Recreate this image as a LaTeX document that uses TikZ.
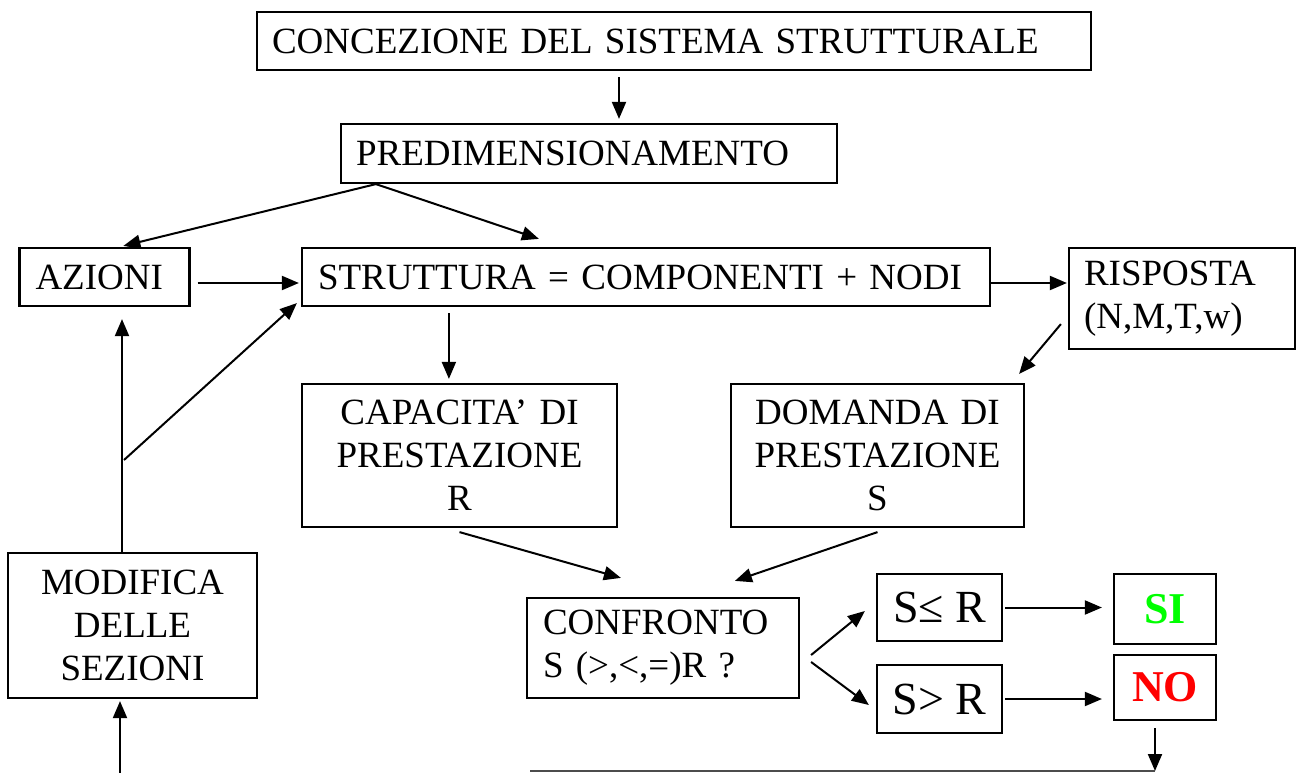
\documentclass[tikz,border=0pt]{standalone}
\usepackage{fontspec}
\setmainfont{Liberation Serif}
\usepackage{tikz}
\usetikzlibrary{arrows.meta}

\begin{document}
\begin{tikzpicture}[x=1pt,y=-1pt,
  box/.style={draw,line width=2.2pt,inner ysep=0pt,
    font=\fontsize{37}{43}\selectfont},
  lbox/.style={box,align=left,inner xsep=15pt},
  cbox/.style={box,align=center,inner xsep=0pt},
  big/.style={box,inner xsep=0pt,font=\fontsize{46}{50}\selectfont},
  res/.style={big,font=\fontsize{44}{50}\selectfont\bfseries},
  arr/.style={line width=2pt,-{Triangle[length=17pt,width=14pt]}}]
\useasboundingbox (0,0) rectangle (1298,773);

\node[lbox,text width=804pt,minimum height=58pt] (conc) at (674,41)
  {CONCEZIONE DEL SISTEMA STRUTTURALE};
\node[lbox,text width=466pt,minimum height=59pt] (pred) at (589,153.5)
  {PREDIMENSIONAMENTO};
\node[lbox,text width=138pt,minimum height=58pt,inner xsep=16pt] (azioni) at (104.5,277)
  {AZIONI};
\node[lbox,text width=656pt,minimum height=58pt,inner xsep=16pt] (str) at (646,277)
  {STRUTTURA = COMPONENTI + NODI};
\node[lbox,text width=196pt,minimum height=101pt] (risp) at (1182,298.5)
  {RISPOSTA\\(N,M,T,w)};
\node[cbox,text width=315pt,minimum height=143pt] (cap) at (459.5,455.5)
  {CAPACITA’ DI\\PRESTAZIONE\\R};
\node[cbox,text width=293pt,minimum height=143pt] (dom) at (877.5,455.5)
  {DOMANDA DI\\PRESTAZIONE\\S};
\node[cbox,text width=249pt,minimum height=145pt] (mod) at (132.5,625.5)
  {MODIFICA\\DELLE\\SEZIONI};
\node[lbox,text width=240pt,minimum height=100pt,inner xsep=16pt] (conf) at (663,648)
  {CONFRONTO\\S (>,<,=)R ?};
\node[big,minimum width=125pt,minimum height=67pt] (le) at (939.5,607.5) {S≤ R};
\node[big,minimum width=125pt,minimum height=68pt] (gt) at (939.5,699) {S> R};
\node[res,minimum width=102pt,minimum height=70pt,text=green] (si) at (1165,609) {SI};
\node[res,minimum width=102pt,minimum height=65pt,text=red] (no) at (1165,687.5) {NO};

\coordinate (bot) at (1155,771);
\coordinate (botl) at (530,771);
\coordinate (start) at (120,773);
\coordinate (fork) at (124,460);

\draw[arr] ([xshift=-55pt,yshift=-6pt]conc.south) -- ([xshift=30pt,yshift=4pt]pred.north);
\draw[arr] ([xshift=36pt]pred.south west) -- ([xshift=105pt,yshift=1pt]azioni.north west);
\draw[arr] ([xshift=36pt]pred.south west) -- ([xshift=238pt,yshift=8pt]str.north west);
\draw[arr] ([xshift=7pt,yshift=-6pt]azioni.east) -- ([xshift=-2pt,yshift=-6pt]str.west);
\draw[arr] ([yshift=-6pt]str.east) -- ([xshift=-1pt,yshift=15.5pt]risp.west);
\draw[arr] ([xshift=148pt,yshift=-6pt]str.south west) -- ([xshift=148pt,yshift=4pt]cap.north west);
\draw[arr] ([xshift=-7pt,yshift=26pt]risp.south west) -- ([xshift=-6pt,yshift=9pt]dom.north east);
\draw[arr] ([yshift=-4pt]cap.south) -- ([xshift=95pt,yshift=19pt]conf.north west);
\draw[arr] ([yshift=-4pt]dom.south) -- ([xshift=209pt,yshift=16pt]conf.north west);
\draw[arr] ([xshift=11pt,yshift=-7pt]conf.east) -- ([xshift=-11pt,yshift=-3.5pt]le.west);
\draw[arr] ([xshift=11pt,yshift=-14pt]conf.east) -- ([xshift=-7pt,yshift=-6pt]gt.west);
\draw[arr] ([xshift=2pt]le.east) -- ([xshift=-11pt]le.east -| si.west);
\draw[arr] ([xshift=2pt]gt.east) -- ([xshift=-11pt]gt.east -| no.west);
\draw[arr] ([xshift=-10pt,yshift=-7pt]no.south) -- (bot);
\draw[line width=2pt,black!70] (botl) -- (bot);
\draw[arr] (start) -- ([xshift=-12.5pt,yshift=-2pt]mod.south);
\draw[arr] ([xshift=-10.5pt]mod.north) -- ([xshift=17.5pt,yshift=-12pt]azioni.south);
\draw[arr] (fork) -- ([xshift=-4pt,yshift=4pt]str.south west);
\end{tikzpicture}
\end{document}
